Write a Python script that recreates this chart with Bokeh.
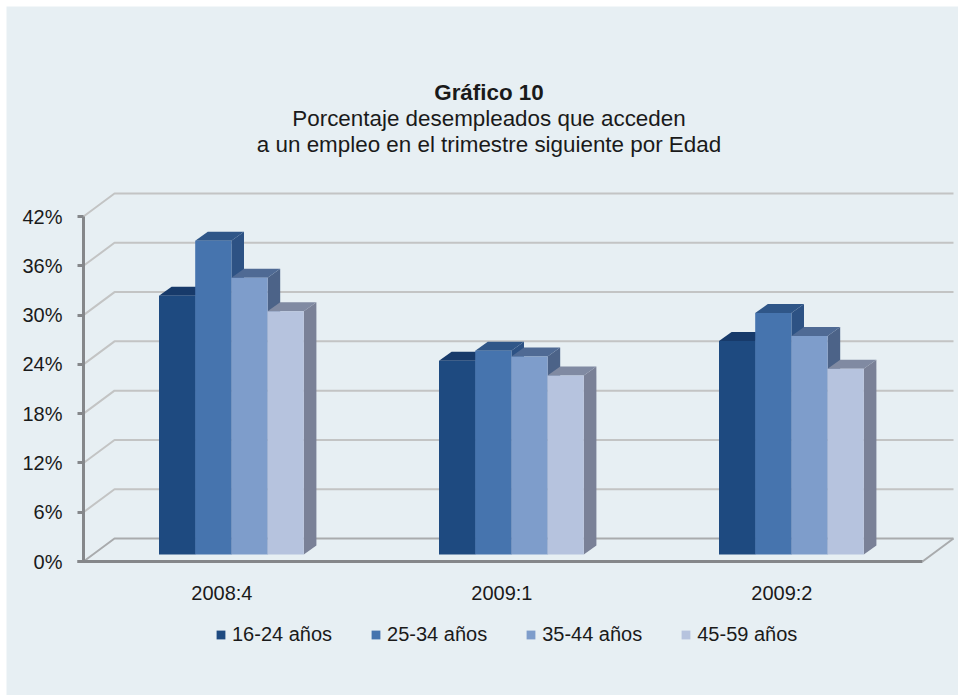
from bokeh.plotting import figure
from bokeh.models import Range1d, FixedTicker, Legend, LegendItem, Label
from bokeh.embed import file_html
from bokeh.resources import INLINE

periods = ["2008:4", "2009:1", "2009:2"]
series_names = ["16-24 años", "25-34 años", "35-44 años", "45-59 años"]
v_16_24 = [31.5, 23.6, 26.0]
v_25_34 = [38.2, 24.8, 29.4]
v_35_44 = [33.7, 24.1, 26.6]
v_45_59 = [29.6, 21.8, 22.6]
series_values = [v_16_24, v_25_34, v_35_44, v_45_59]
y_ticks = [0, 6, 12, 18, 24, 30, 36, 42]

front = ["#1E4A80", "#4674AE", "#7E9DCB", "#B6C3DE"]
side = ["#1B4274", "#2D5284", "#4C6388", "#7A8197"]
top = ["#173A6A", "#2F5688", "#4F6A94", "#808AA2"]

BG = "#E7EFF3"
FONT = "Liberation Sans"
W, H = 952, 689
PX_X = 280.0
PX_Y = 8.214
x_axis_at = -(230.9 - 83) / PX_X
x_start = x_axis_at - (83 - 6) / PX_X
x_end = x_start + W / PX_X
y_start = -(695 - 561) / PX_Y
y_end = y_start + H / PX_Y

p = figure(width=W, height=H, output_backend="svg", toolbar_location=None,
           x_range=Range1d(x_start, x_end), y_range=Range1d(y_start, y_end),
           margin=(6, 0, 0, 6),
           min_border_left=0, min_border_right=0, min_border_top=0, min_border_bottom=0,
           background_fill_color=BG, border_fill_color=BG, outline_line_color=None)
p.grid.visible = False

wall_dx = 31 / PX_X
wall_dy = 23 / PX_Y
axis_end = x_axis_at + 839 / PX_X
wall_end = axis_end + wall_dx

for t in y_ticks:
    col = "#A9ABAD" if t == 0 else "#C3C4C4"
    p.line([x_axis_at, x_axis_at + wall_dx, wall_end], [t, t + wall_dy, t + wall_dy],
           line_color=col, line_width=2)
p.line([axis_end, wall_end], [0, wall_dy], line_color="#A9ABAD", line_width=2)

bw = 36.2 / PX_X
dep_x = 12.6 / PX_X
dep_y = 9 / PX_Y
base = 7 / PX_Y
renderers = []
for s, vals in enumerate(series_values):
    for g, v in enumerate(vals):
        l = g + (s - 2) * bw
        r = l + bw
        t = base + v
        p.patch([r, r + dep_x, r + dep_x, r], [base, base + dep_y, t + dep_y, t],
                fill_color=side[s], line_color=None)
        p.patch([l, r, r + dep_x, l + dep_x], [t, t, t + dep_y, t + dep_y],
                fill_color=top[s], line_color=None)
    lefts = [g + (s - 2) * bw for g in range(len(vals))]
    rights = [a + bw for a in lefts]
    bases = [base] * len(vals)
    tops = [base + v for v in vals]
    renderers.append(p.quad(left=lefts, right=rights, bottom=bases, top=tops,
                            fill_color=front[s], line_color=None))

label_shift = -9.5 / PX_X
label_ticks = [g + label_shift for g in range(len(periods))]
xa = p.xaxis[0]
xa.fixed_location = 0
xa.ticker = FixedTicker(ticks=label_ticks)
xa.major_label_overrides = {tk: n for tk, n in zip(label_ticks, periods)}
xa.major_tick_line_color = None
xa.minor_tick_line_color = None
xa.axis_line_color = "#85878A"
xa.axis_line_width = 3
xa.bounds = (x_axis_at - 6 / PX_X, axis_end)
xa.major_label_text_font = FONT
xa.major_label_text_font_size = "20px"
xa.major_label_text_color = "#1A1A1A"
xa.major_label_standoff = 14

ya = p.yaxis[0]
ya.fixed_location = x_axis_at
ya.ticker = FixedTicker(ticks=y_ticks)
ya.major_label_overrides = {t: f"{t}%" for t in y_ticks}
ya.minor_tick_line_color = None
ya.major_tick_line_color = "#85878A"
ya.major_tick_line_width = 3
ya.major_tick_in = 0
ya.major_tick_out = 6
ya.axis_line_color = "#85878A"
ya.axis_line_width = 3
ya.bounds = (0, 42)
ya.major_label_text_font = FONT
ya.major_label_text_font_size = "20px"
ya.major_label_text_color = "#1A1A1A"
ya.major_label_standoff = 15

items = [LegendItem(label=n, renderers=[r]) for n, r in zip(series_names, renderers)]
legend = Legend(items=items, orientation="horizontal", location=(209, 49),
                background_fill_alpha=0, border_line_color=None,
                glyph_width=11, glyph_height=11, label_standoff=6, spacing=38, padding=0, margin=0,
                label_text_font=FONT, label_text_font_size="20px", label_text_color="#1A1A1A")
p.add_layout(legend, "center")

for txt, yy, st in [("Gráfico 10", 92, "bold"),
                    ("Porcentaje desempleados que acceden", 118, "normal"),
                    ("a un empleo en el trimestre siguiente por Edad", 144, "normal")]:
    p.add_layout(Label(x=488.5 - 6, y=695 - yy, x_units="screen", y_units="screen", text=txt,
                       text_align="center", text_baseline="middle", text_font=FONT,
                       text_font_size="22.4px", text_font_style=st, text_color="#1A1A1A"))

open("out.html", "w").write(file_html(p, INLINE))
